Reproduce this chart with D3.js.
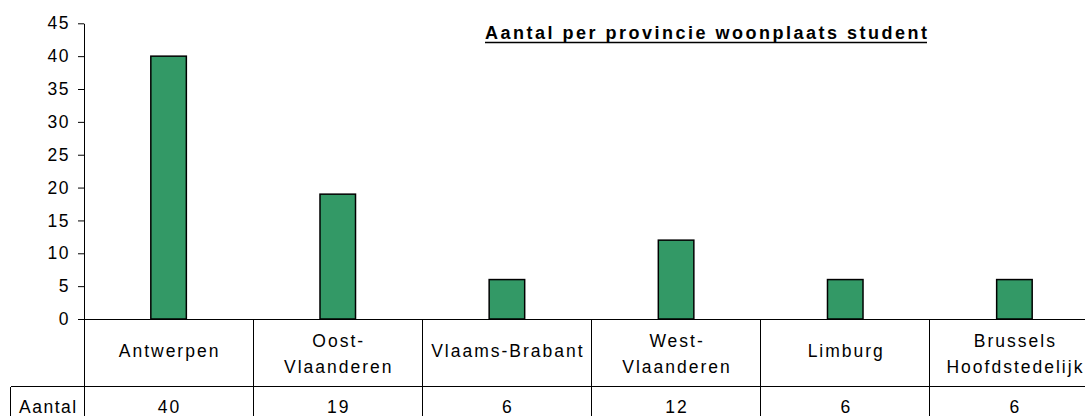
<!DOCTYPE html>
<html>
<head>
<meta charset="utf-8">
<script src="https://cdn.jsdelivr.net/npm/d3@7"></script>
<style>
  html, body { margin: 0; padding: 0; background: #fff; }
  svg { display: block; }
  text { font-family: "Liberation Sans", Arial, sans-serif; fill: #000; }
</style>
</head>
<body>
<svg id="chart" width="1085" height="416"></svg>
<script>
// ---- data ----
const categories = [
  ["Antwerpen"],
  ["Oost-", "Vlaanderen"],
  ["Vlaams-Brabant"],
  ["West-", "Vlaanderen"],
  ["Limburg"],
  ["Brussels", "Hoofdstedelijk"]
];
const values = [40, 19, 6, 12, 6, 6];
const seriesName = "Aantal";
const yTicks = [0, 5, 10, 15, 20, 25, 30, 35, 40, 45];
const title = "Aantal per provincie woonplaats student";

// ---- layout ----
(function () {
const svg = d3.select("#chart");
const plotLeft = 84, plotRight = 1099, plotTop = 23.3, zero = 319;
const rowBottom = 386.7, tableLeft = 10.7, tableBottom = 440;
const fs = 17.5;

const keys = categories.map(c => c.join(" "));
const x = d3.scaleBand().domain(keys).range([plotLeft, plotRight]).padding(0);
const y = d3.scaleLinear().domain([0, 45]).range([zero, plotTop]);

// y axis
const yAxis = d3.axisLeft(y).tickValues(yTicks).tickSize(6).tickSizeOuter(0).tickPadding(8);
const ga = svg.append("g").attr("transform", `translate(${plotLeft},0)`).call(yAxis);
ga.select(".domain").attr("stroke", "#000").attr("stroke-width", 1);
ga.selectAll(".tick line").attr("stroke", "#000");
ga.selectAll(".tick text")
  .attr("font-size", fs).attr("letter-spacing", "1.5px")
  .attr("font-family", "Liberation Sans, Arial, sans-serif").attr("fill", "#000")
  .attr("dx", "0px");

// bars
const bw = x.bandwidth() * 0.21;
svg.append("g").selectAll("rect").data(values).join("rect")
  .attr("x", (d, i) => x(keys[i]) + x.bandwidth() / 2 - bw / 2)
  .attr("y", d => y(d))
  .attr("width", bw)
  .attr("height", d => y(0) - y(d))
  .attr("fill", "#339966")
  .attr("stroke", "#000")
  .attr("stroke-width", 1.5);

// data table lines
const lines = svg.append("g").attr("stroke", "#000").attr("stroke-width", 1).attr("shape-rendering", "crispEdges");
lines.append("line").attr("x1", plotLeft).attr("x2", plotRight + 20).attr("y1", y(0)).attr("y2", y(0));
lines.append("line").attr("x1", tableLeft).attr("x2", plotRight + 20).attr("y1", rowBottom).attr("y2", rowBottom);
lines.append("line").attr("x1", tableLeft).attr("x2", tableLeft).attr("y1", rowBottom).attr("y2", tableBottom);
const bounds = keys.map(k => x(k)).concat([plotRight]);
lines.selectAll("line.v").data(bounds).join("line").attr("class", "v")
  .attr("x1", d => d).attr("x2", d => d).attr("y1", y(0)).attr("y2", tableBottom);

// category labels
const lab = svg.append("g").selectAll("text").data(categories).join("text")
  .attr("text-anchor", "middle").attr("font-size", fs).attr("letter-spacing", "2px");
lab.each(function(c, i) {
  const cx = x(keys[i]) + x.bandwidth() / 2 + 1;
  const lh = 25.8;
  const base = c.length === 1 ? 357 : 346.7;
  d3.select(this).selectAll("tspan").data(c).join("tspan")
    .attr("x", cx).attr("y", (d, j) => base + j * lh).text(d => d);
});

// values row
svg.append("g").selectAll("text").data(values).join("text")
  .attr("x", (d, i) => x(keys[i]) + x.bandwidth() / 2 + 1)
  .attr("y", 413)
  .attr("text-anchor", "middle").attr("font-size", fs).attr("letter-spacing", "2px")
  .text(d => d);

svg.append("text").attr("x", (tableLeft + plotLeft) / 2 + 1).attr("y", 413)
  .attr("text-anchor", "middle").attr("font-size", fs).attr("letter-spacing", "1.5px")
  .text(seriesName);

// title
const tx0 = 485, tx1 = 927;
svg.append("text").attr("x", tx0).attr("y", 38.5)
  .attr("font-size", 18).attr("font-weight", "bold")
  .attr("textLength", tx1 - tx0).attr("lengthAdjust", "spacing")
  .text(title);
svg.append("line").attr("x1", tx0).attr("x2", tx1).attr("y1", 42.5).attr("y2", 42.5)
  .attr("stroke", "#000").attr("stroke-width", 1.5);
})();
</script>
</body>
</html>
